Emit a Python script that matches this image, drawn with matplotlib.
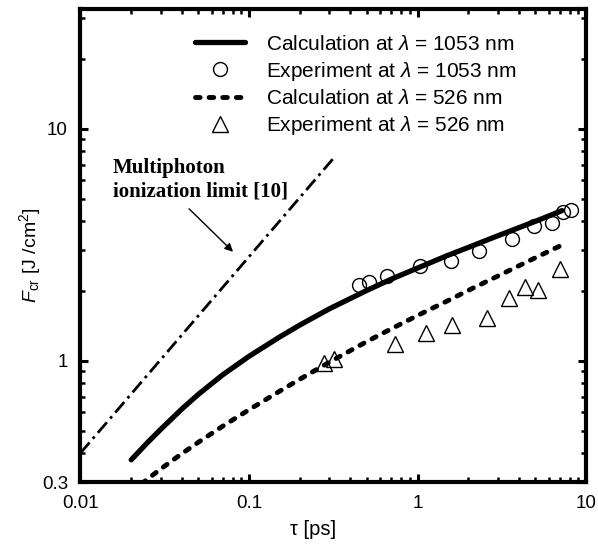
import matplotlib
matplotlib.use("Agg")
import matplotlib.pyplot as plt
from matplotlib.ticker import LogLocator, NullFormatter, FixedLocator, FixedFormatter

plt.rcParams['font.family'] = ['Liberation Sans', 'DejaVu Sans']
plt.rcParams['mathtext.fontset'] = 'custom'
plt.rcParams['mathtext.rm'] = 'Liberation Sans'
plt.rcParams['mathtext.it'] = 'Liberation Sans:italic'

# Calculation, lambda = 1053 nm
calc1053_tau = [0.02, 0.025, 0.03, 0.04, 0.05, 0.07, 0.1, 0.15, 0.2, 0.3, 0.5, 0.7, 1, 1.5, 2, 3, 5, 7.2]
calc1053_F = [0.374, 0.444, 0.507, 0.620, 0.716, 0.871, 1.045, 1.259, 1.425, 1.675, 2.01, 2.25, 2.51, 2.84,
              3.08, 3.46, 3.99, 4.44]
# Calculation, lambda = 526 nm
calc526_tau = [0.02, 0.025, 0.03, 0.04, 0.05, 0.07, 0.1, 0.15, 0.2, 0.3, 0.5, 0.7, 1, 1.5, 2, 3, 5, 7.1]
calc526_F = [0.271, 0.309, 0.342, 0.398, 0.445, 0.523, 0.615, 0.735, 0.832, 0.986, 1.21, 1.374, 1.567, 1.81,
             2.01, 2.32, 2.78, 3.14]
# Experiment, lambda = 1053 nm
exp1053_tau = [0.447, 0.518, 0.661, 1.04, 1.57, 2.32, 3.63, 4.92, 6.25, 7.27, 8.14]
exp1053_F = [2.13, 2.18, 2.32, 2.55, 2.70, 2.96, 3.35, 3.82, 3.92, 4.37, 4.45]
# Experiment, lambda = 526 nm
exp526_tau = [0.279, 0.318, 0.733, 1.13, 1.61, 2.58, 3.49, 4.35, 5.20, 7.03]
exp526_F = [0.977, 1.02, 1.18, 1.32, 1.42, 1.53, 1.87, 2.07, 2.02, 2.48]
# Multiphoton ionization limit
mpi_tau = [0.01, 0.324]
mpi_F = [0.40, 7.6]

legend_labels = [r"Calculation at $\lambda$ = 1053 nm",
                 r"Experiment at $\lambda$ = 1053 nm",
                 r"Calculation at $\lambda$ = 526 nm",
                 r"Experiment at $\lambda$ = 526 nm"]
annot_text = "Multiphoton\nionization limit [10]"
xtick_vals = [0.01, 0.1, 1, 10]
xtick_labels = ["0.01", "0.1", "1", "10"]
ytick_vals = [0.3, 1, 10]
ytick_labels = ["0.3", "1", "10"]

fig = plt.figure(figsize=(5.98, 5.49), dpi=100)
ax = fig.add_axes([0.1346, 0.122, 0.8454, 0.8607])
ax.set_xscale('log')
ax.set_yscale('log')

l1, = ax.plot(calc1053_tau, calc1053_F, color='black', lw=3.8, solid_capstyle='round')
m1, = ax.plot(exp1053_tau, exp1053_F, 'o', ms=10, mfc='none', mec='black', mew=1.0)
l2, = ax.plot(calc526_tau, calc526_F, color='black', lw=3.5, dashes=(0.95, 1.85),
              dash_capstyle='round')
m2, = ax.plot(exp526_tau, exp526_F, '^', ms=11, mfc='none', mec='black', mew=1.0)
ax.plot(mpi_tau, mpi_F, color='black', lw=2.0, dashes=(5, 1.8, 1, 1.8))

ax.set_xlim(0.01, 10)
ax.set_ylim(0.3, 32.7)

ax.xaxis.set_major_locator(FixedLocator(xtick_vals))
ax.xaxis.set_major_formatter(FixedFormatter(xtick_labels))
ax.yaxis.set_major_locator(FixedLocator(ytick_vals))
ax.yaxis.set_major_formatter(FixedFormatter(ytick_labels))
ax.xaxis.set_minor_locator(LogLocator(base=10, subs=range(2, 10)))
ax.yaxis.set_minor_locator(LogLocator(base=10, subs=range(2, 10)))
ax.xaxis.set_minor_formatter(NullFormatter())
ax.yaxis.set_minor_formatter(NullFormatter())

for s in ax.spines.values():
    s.set_linewidth(3)
ax.tick_params(which='both', direction='in', top=True, right=True, labelsize=13.5)
ax.tick_params(which='major', length=6, width=2.2, pad=9)
ax.tick_params(which='minor', length=3.5, width=1.8)

ax.set_xlabel(r"τ [ps]", fontsize=14.5)
ax.xaxis.set_label_coords(0.46, -0.080)
ax.set_ylabel(r"$F$$_{\mathrm{cr}}$ [J /cm$^2$]", fontsize=14)
ax.yaxis.set_label_coords(-0.075, 0.48)

leg = ax.legend([l1, m1, l2, m2], legend_labels, loc='upper left',
                bbox_to_anchor=(0.2265, 0.947), frameon=False, fontsize=15,
                handlelength=2.4, handletextpad=1.0, labelspacing=0.3,
                borderpad=0, borderaxespad=0)

ax.text(0.0643, 0.640, annot_text, transform=ax.transAxes, fontsize=15,
        fontweight='bold', family='Liberation Serif', ha='left', va='center',
        linespacing=1.2)
ax.annotate("", xy=(0.0804, 2.95), xytext=(0.0441, 4.52),
            arrowprops=dict(arrowstyle='-|>', color='black', lw=1.0, mutation_scale=12,
                            shrinkA=0, shrinkB=0))

fig.savefig("out.png", dpi=100)
